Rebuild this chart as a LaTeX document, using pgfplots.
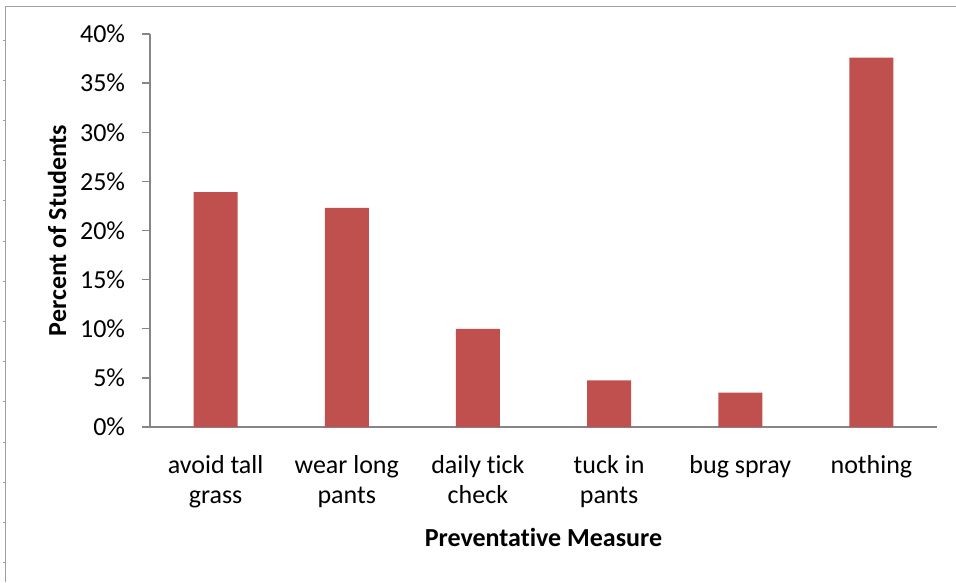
\documentclass[border=0pt]{standalone}
\usepackage{pgfplots}
\pgfplotsset{compat=1.18}
\usepackage{fontspec}
\setmainfont[Ligatures=NoCommon]{Carlito}
\definecolor{barred}{HTML}{C0504D}
\definecolor{axgray}{HTML}{868686}
\definecolor{bordergray}{HTML}{A0A0A0}
\begin{document}
\fontsize{19.5}{23.5}\selectfont
\begin{tikzpicture}
\path[use as bounding box] (0,0) rectangle (717pt,436.5pt);
% outer border (top and left visible)
\draw[bordergray, line width=1.2pt] (4.1pt,0) -- (4.1pt,431.6pt) -- (717pt,431.6pt);
\foreach \k in {0,...,13} {
  \draw[bordergray, line width=0.6pt] (2.2pt,{436.5pt-(40+40.2*\k)*0.75pt}) -- (4.1pt,{436.5pt-(40+40.2*\k)*0.75pt});
}
\begin{axis}[
  at={(112.5pt,116.25pt)}, anchor=south west,
  scale only axis, width=590.25pt, height=294.75pt,
  xmin=-0.5, xmax=5.5, ymin=0, ymax=40,
  axis lines=left,
  axis line style={-, draw=axgray, line width=1.1pt},
  ytick={0,5,...,40},
  yticklabel={\pgfmathprintnumber{\tick}\%},
  /pgf/number format/assume math mode=true,
  ytick style={draw=axgray, line width=1.1pt},
  tick align=outside,
  major tick length=6pt,
  xtick={0,...,5},
  xticklabels={{avoid tall\\grass},{wear long\\pants},{daily tick\\check},{tuck in\\pants},{bug spray},{nothing}},
  x tick style={draw=none},
  xticklabel style={align=center, font=\fontsize{19.5}{23}\selectfont, yshift=-8.5pt, text depth=0pt},
  yticklabel style={font=\fontsize{19.5}{23.5}\selectfont, xshift=-6pt},
  ylabel={\bfseries Percent of Students},
  xlabel={\bfseries Preventative Measure},
  ylabel style={at={(axis description cs:-0.118,0.5)}, anchor=center, font=\fontsize{19.5}{23.5}\selectfont},
  xlabel style={at={(axis description cs:0.5,-0.28)}, anchor=center, font=\fontsize{19.5}{23.5}\selectfont},
  ybar, bar width=33pt,
  clip=false,
]
\addplot[fill=barred, draw=none] coordinates {(0,23.9) (1,22.3) (2,10.0) (3,4.75) (4,3.5) (5,37.6)};
\end{axis}
\end{tikzpicture}
\end{document}
